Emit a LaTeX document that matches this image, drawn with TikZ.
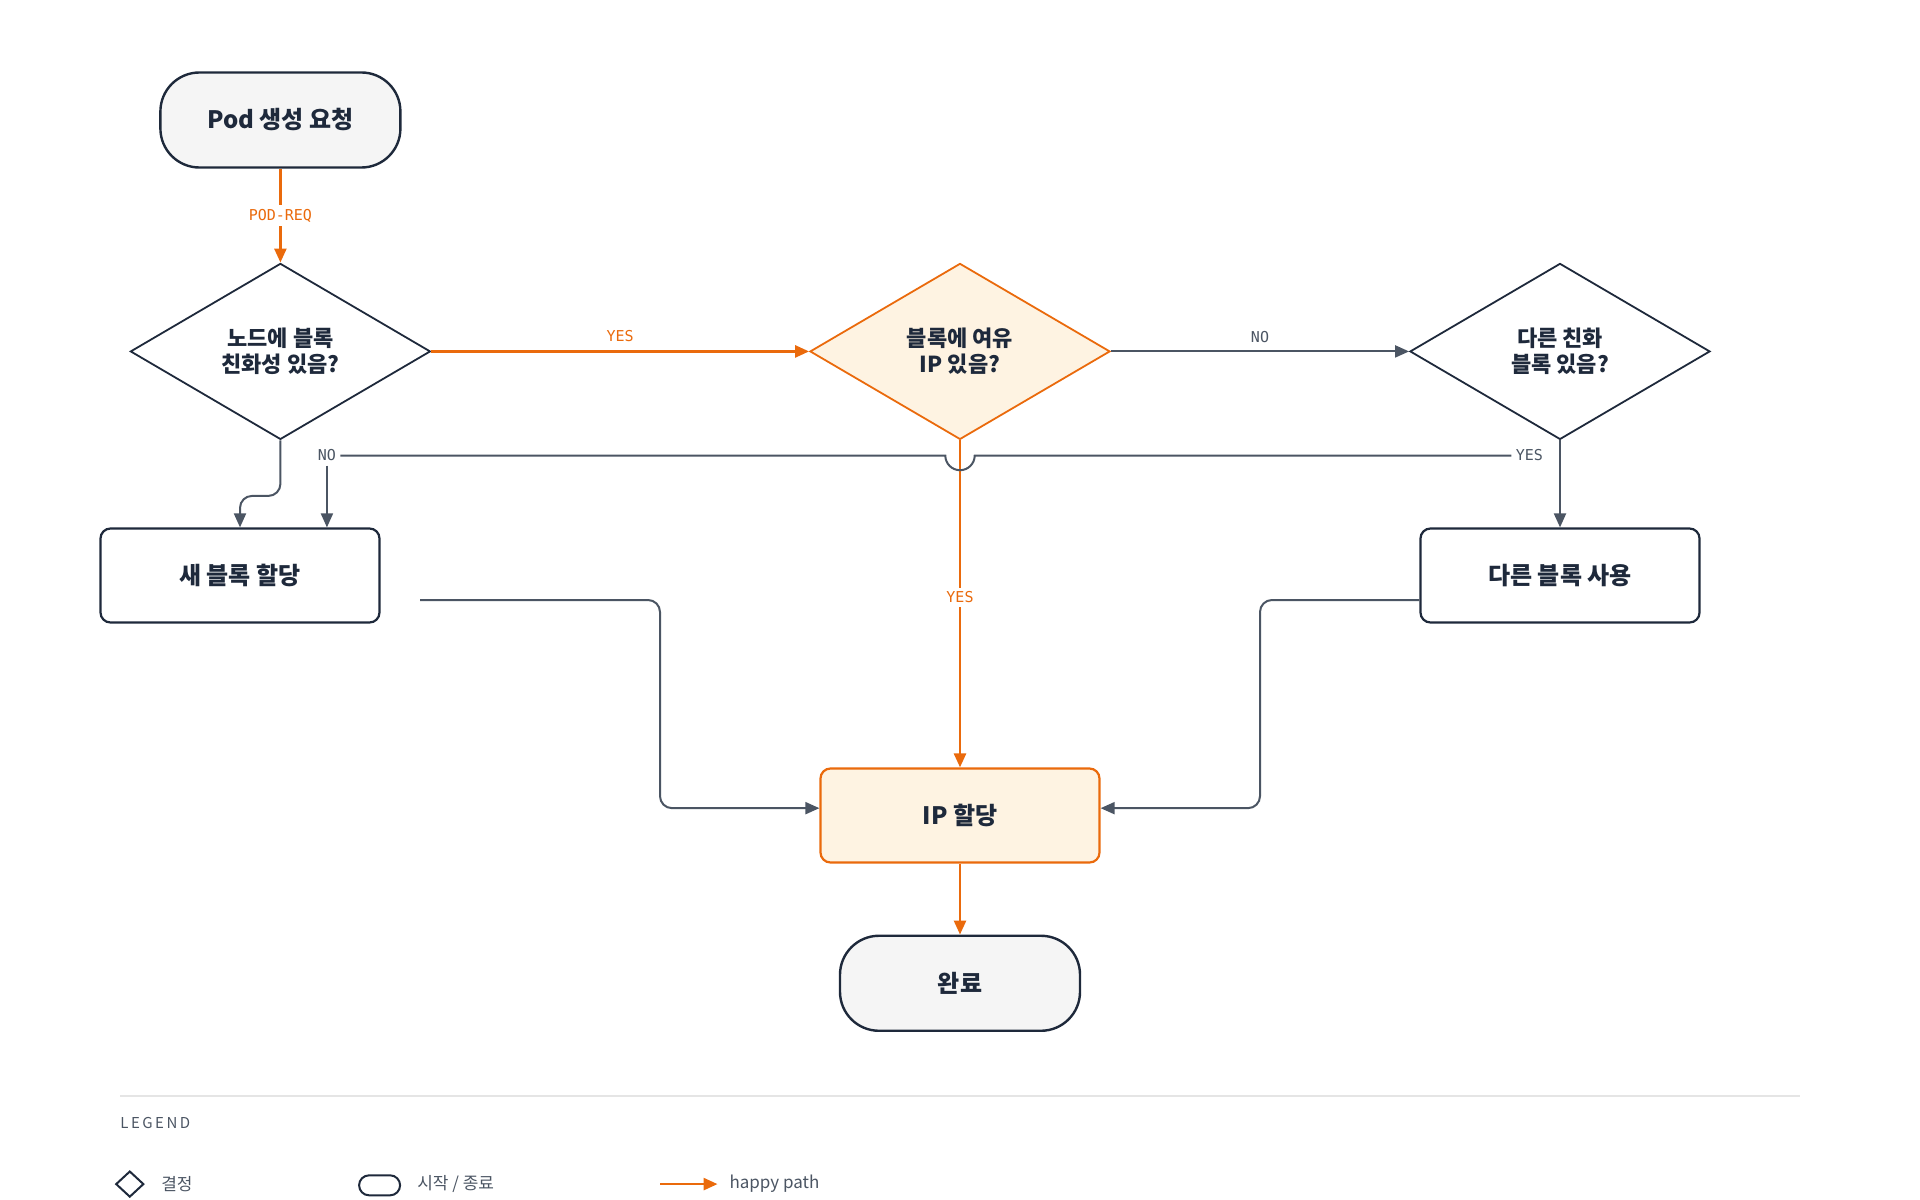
\documentclass[tikz,border=0pt]{standalone}
\usepackage{fontspec}
\setmainfont{Noto Sans CJK KR}
\newfontfamily\labelfont{DejaVu Sans Mono}
\usetikzlibrary{arrows.meta,shapes.geometric,positioning}
\definecolor{ink}{HTML}{1E293B}
\definecolor{wire}{HTML}{4B5563}
\definecolor{happy}{HTML}{EA6A0C}
\definecolor{cream}{HTML}{FEF3E2}
\definecolor{pale}{HTML}{F5F5F5}
\tikzstyle{term}=[draw=ink,fill=pale,line width=1.2pt,rounded corners=19.5,minimum width=120pt,minimum height=47.5pt,font=\bfseries\fontsize{12}{14}\selectfont,text=ink]
\tikzstyle{decide}=[draw=ink,fill=white,line width=0.9pt,diamond,aspect=1.7,minimum width=150pt,minimum height=88pt,inner sep=0pt,align=center,font=\bfseries\fontsize{11}{13}\selectfont,text=ink]
\tikzstyle{task}=[draw=ink,fill=white,line width=1.1pt,rounded corners=5pt,minimum width=139.5pt,minimum height=47pt,font=\bfseries\fontsize{12}{14}\selectfont,text=ink]
\tikzstyle{hot}=[draw=happy,fill=cream]
\tikzstyle{go}=[draw=happy,line width=1.3pt,-{Triangle[length=7pt,width=6pt]}]
\tikzstyle{flow}=[draw=wire,line width=1pt,-{Triangle[length=7pt,width=6pt]},rounded corners=6pt]
\tikzstyle{tag}=[fill=white,inner sep=2pt,font=\labelfont\fontsize{7.5}{9}\selectfont]
\begin{document}
\begin{tikzpicture}[x=0.6122pt,y=-0.6122pt]
\useasboundingbox (0,0) rectangle (1568,980);

\node[term] (start) at (229,98) {Pod 생성 요청};
\node[decide] (affine) at (229,287) {노드에 블록\\친화성 있음?};
\node[decide,hot] (room) at (784,287) {블록에 여유\\IP 있음?};
\node[decide] (other) at (1274,287) {다른 친화\\블록 있음?};
\node[task] (newblk) at (196,470) {새 블록 할당};
\node[task] (useblk) at (1274,470) {다른 블록 사용};
\node[task,hot] (alloc) at (784,666) {IP 할당};
\node[term] (done) at (784,803) {완료};

\node[tag,text=wire] (no1) at (267,372) {NO};
\node[tag,text=wire] (yes2) at (1249,372) {YES};
\coordinate (hopL) at (772,372);
\coordinate (hopR) at (796,372);
\coordinate (newout) at (343,490);

% happy path
\path[go] (start) -- node[tag,text=happy] {POD-REQ} (affine);
\path[go] (affine) -- node[tag,text=happy,above=2pt,fill=none] {YES} (room);
\path[go] (room.south) -- node[tag,text=happy,pos=0.48] {YES} (alloc);
\path[go] (alloc) -- (done);

% other paths
\path[flow] (room) -- node[tag,text=wire,above=2pt,fill=none] {NO} (other);
\draw[wire,line width=1pt] (no1.east) -- (hopL) arc[start angle=180,end angle=0,radius=12] -- (hopR) -- (yes2.west);
\path[flow] (no1.south) -- (no1.south |- newblk.north);
\path[flow] (affine.south) -- (229,405) -- (196,405) -- (newblk.north);
\path[flow] (other.south) -- (useblk.north);
\path[flow] (newout) -- (539,490) -- (539,660) -- (alloc.west |- 0,660);
\path[flow] (useblk.west |- 0,490) -- (1029,490) -- (1029,660) -- (alloc.east |- 0,660);

% legend
\draw[black!10,line width=1pt] (98,895) -- (1470,895);
\node[anchor=west,text=wire,inner sep=0pt,font=\fontsize{7.5}{9}\selectfont] (legtitle) at (98,917) {L\,E\,G\,E\,N\,D};
\node[draw=ink,line width=1pt,diamond,minimum width=14pt,minimum height=13pt,inner sep=0pt] (legdia) at (106,967) {};
\node[anchor=west,text=wire,font=\fontsize{8.5}{10}\selectfont] (legdtx) at (126,967) {결정};
\node[draw=ink,line width=1pt,rounded corners=5pt,minimum width=20.5pt,minimum height=10pt,inner sep=0pt] (legpill) at (310,968) {};
\node[anchor=west,text=wire,font=\fontsize{8.5}{10}\selectfont] (legptx) at (335,967) {시작 / 종료};
\coordinate (legA) at (539,967);
\coordinate (legB) at (586,967);
\path[go] (legA) -- (legB);
\node[anchor=west,text=wire,font=\fontsize{8.5}{10}\selectfont] (leghtx) at (590,967) {happy path};
\end{tikzpicture}
\end{document}
